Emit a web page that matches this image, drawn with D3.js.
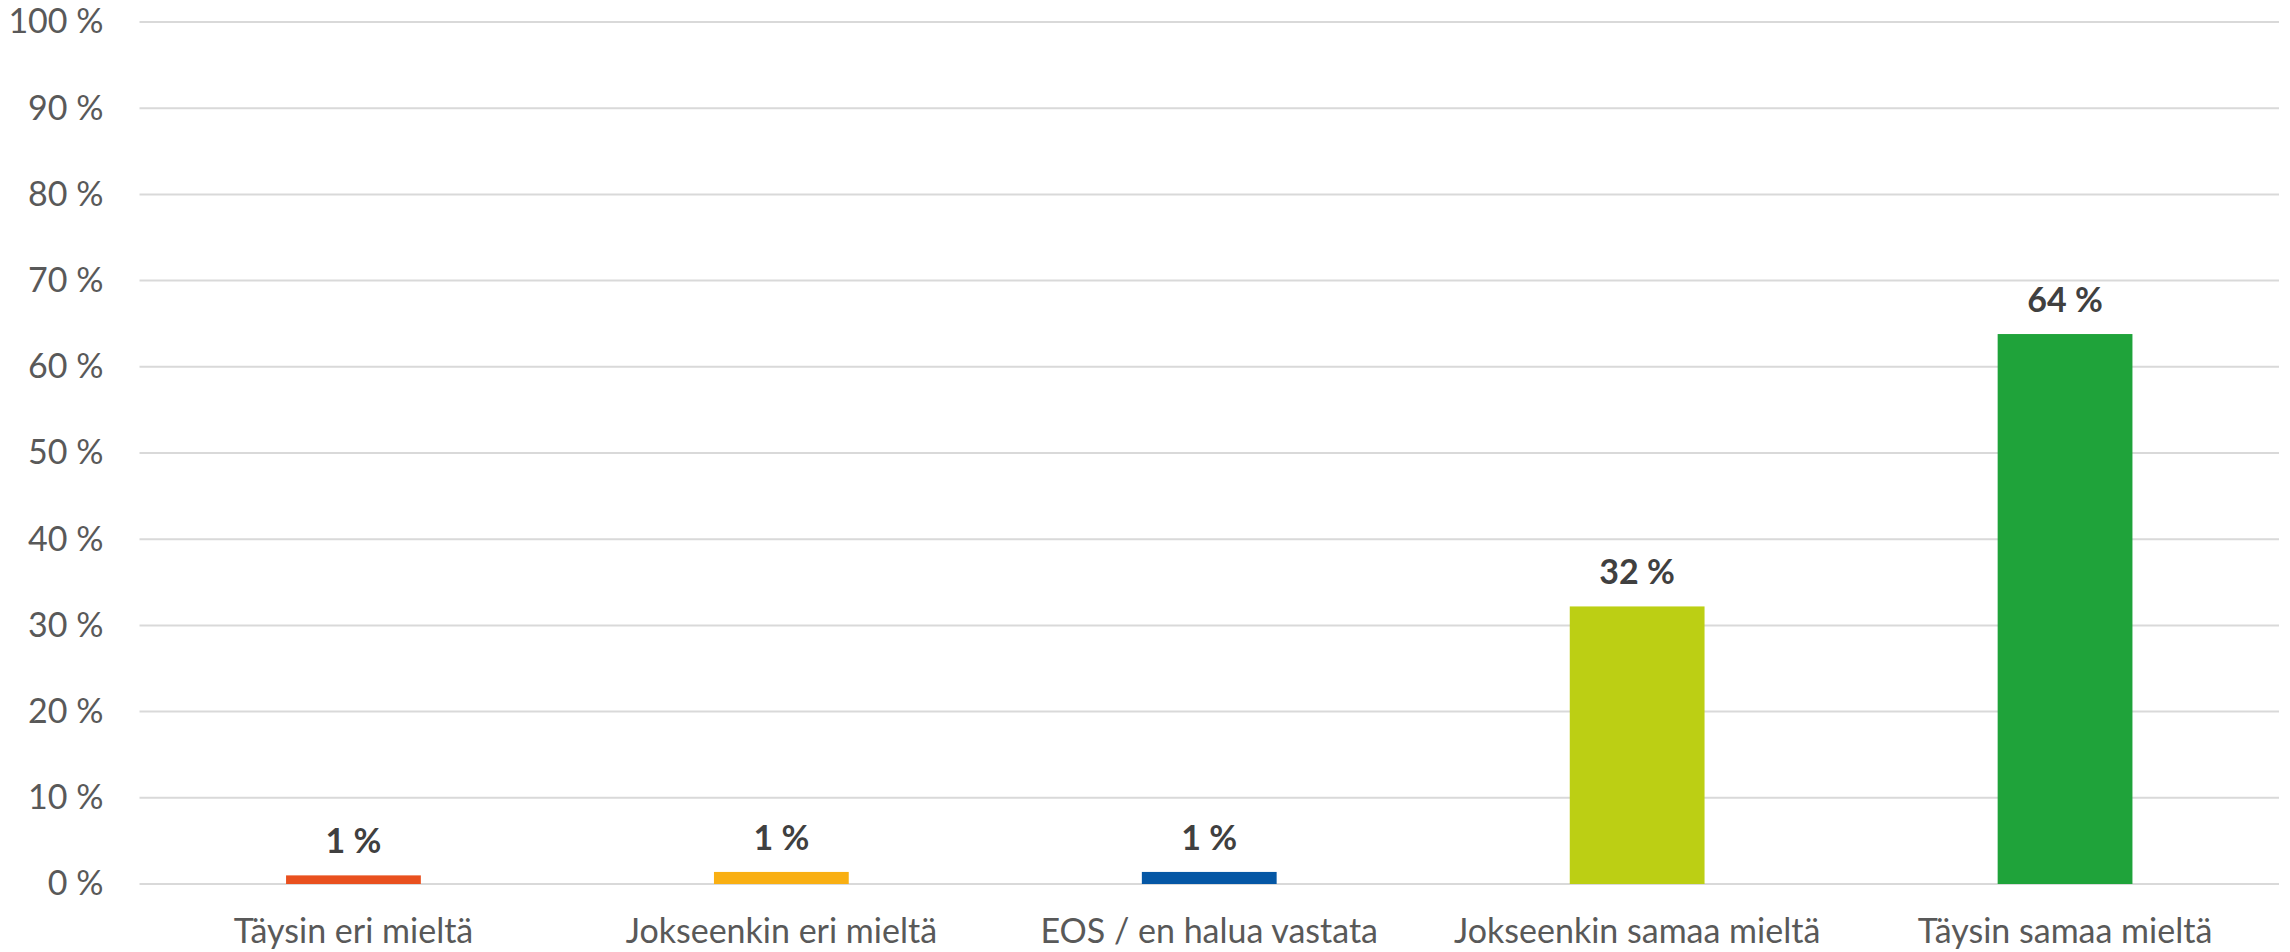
<!DOCTYPE html>
<html>
<head>
<meta charset="utf-8">
<script src="https://cdn.jsdelivr.net/npm/d3@7"></script>
<style>
  body { margin: 0; background: #fff; }
  svg text { font-family: Lato, "Open Sans", sans-serif; }
</style>
</head>
<body>
<div id="chart"></div>
<script>
// Chart data
const categories = ['Täysin eri mieltä', 'Jokseenkin eri mieltä', 'EOS / en halua vastata', 'Jokseenkin samaa mieltä', 'Täysin samaa mieltä'];
const values = [1.0, 1.4, 1.4, 32.2, 63.8];
const colors = ['#E9501E', '#F9AF12', '#0557A5', '#BCCF14', '#1FA33A'];
const yTicks = [0, 10, 20, 30, 40, 50, 60, 70, 80, 90, 100];

const width = 2290;
const height = 952;
const margin = { top: 22, right: 11, bottom: 68, left: 139.5 };

const svg = d3.select('#chart')
  .append('svg')
  .attr('width', width)
  .attr('height', height);

const x = d3.scaleBand()
  .domain(categories)
  .range([margin.left, width - margin.right])
  .paddingInner(0.685)
  .paddingOuter(0.3425);

const y = d3.scaleLinear()
  .domain([0, 100])
  .range([height - margin.bottom, margin.top]);

// Gridlines
svg.append('g')
  .selectAll('line')
  .data(yTicks)
  .enter().append('line')
  .attr('x1', margin.left)
  .attr('x2', width - margin.right)
  .attr('y1', d => y(d))
  .attr('y2', d => y(d))
  .style('stroke', '#d9d9d9')
  .style('stroke-width', 2);

// Y axis labels
const yAxis = svg.append('g')
  .attr('transform', `translate(${margin.left},0)`)
  .call(d3.axisLeft(y).tickValues(yTicks).tickFormat(d => d + ' %').tickSize(0).tickPadding(36));
yAxis.select('.domain').remove();
yAxis.selectAll('text')
  .style('font-size', '34px')
  .style('fill', '#595959');

// X axis labels
const xAxis = svg.append('g')
  .attr('transform', `translate(0,${height - margin.bottom})`)
  .call(d3.axisBottom(x).tickSize(0).tickPadding(35));
xAxis.select('.domain').remove();
xAxis.selectAll('text')
  .style('font-size', '34px')
  .style('fill', '#595959');

// Bars
svg.append('g')
  .selectAll('rect')
  .data(values)
  .enter().append('rect')
  .attr('x', (d, i) => x(categories[i]))
  .attr('y', d => y(d))
  .attr('width', x.bandwidth())
  .attr('height', d => y(0) - y(d))
  .style('fill', (d, i) => colors[i]);

// Data labels
svg.append('g')
  .selectAll('text')
  .data(values)
  .enter().append('text')
  .attr('x', (d, i) => x(categories[i]) + x.bandwidth() / 2)
  .attr('y', d => y(d) - 22)
  .attr('text-anchor', 'middle')
  .style('font-size', '34px')
  .style('font-weight', 'bold')
  .style('fill', '#404040')
  .text(d => Math.round(d) + ' %');
</script>
</body>
</html>
